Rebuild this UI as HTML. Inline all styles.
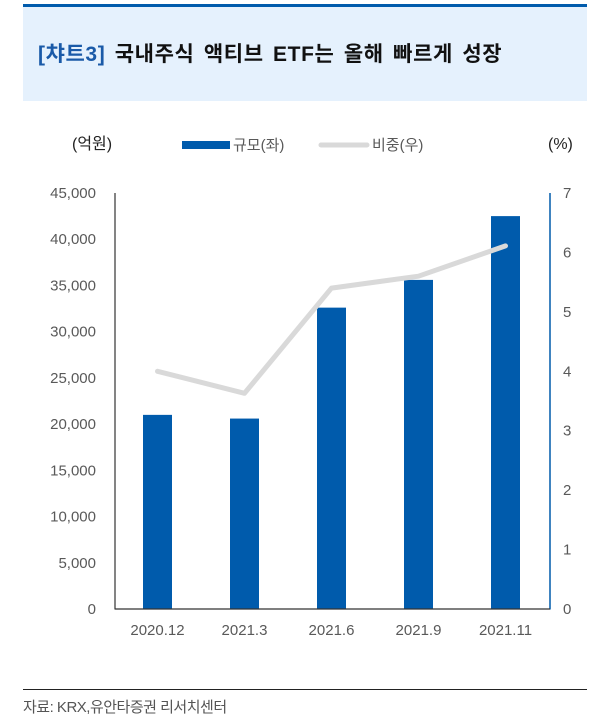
<!DOCTYPE html>
<html><head><meta charset="utf-8"><style>
body{margin:0;width:613px;height:727px;background:#fff;font-family:"Liberation Sans","Noto Sans CJK KR",sans-serif;position:relative;overflow:hidden}
.hdr{position:absolute;left:23px;top:4px;width:564px;height:3px;background:#005bac}
.box{position:absolute;left:23px;top:7px;width:564px;height:94px;background:#e5f1fd}
.title{position:absolute;left:38px;top:38px;font-size:21px;font-weight:bold;color:#111;white-space:nowrap;letter-spacing:0.6px;word-spacing:3px}
.title span{color:#1a5aa8}
.foot{position:absolute;left:23px;top:689px;width:564px;height:1px;background:#222}
.src{position:absolute;left:23px;top:696px;font-size:15px;color:#555;letter-spacing:-0.5px}
</style></head><body>
<div class="hdr"></div>
<div class="box"></div>
<div class="title"><span>[챠트3]</span> 국내주식 액티브 ETF는 올해 빠르게 성장</div>
<svg id="chart" width="613" height="727" style="position:absolute;left:0;top:0"></svg>
<div class="foot"></div>
<div class="src">자료: KRX,유안타증권 리서치센터</div>
<script>
const categories=["2020.12","2021.3","2021.6","2021.9","2021.11"];
const sizeValues=[21000,20600,32600,35600,42500];
const shareValues=[4.0,3.63,5.4,5.6,6.11];
const leftTicks=[0,5000,10000,15000,20000,25000,30000,35000,40000,45000];
const rightTicks=[0,1,2,3,4,5,6,7];
const NS="http://www.w3.org/2000/svg";
const svg=document.getElementById('chart');
const X0=115,X1=550,Y0=609,Y1=193;
const yL=v=>Y0-v/45000*(Y0-Y1);
const yR=v=>Y0-v/7*(Y0-Y1);
const step=(X1-X0)/categories.length;
const xC=i=>X0+step*(i+0.5)-1;
function mk(t,a,txt){const e=document.createElementNS(NS,t);for(const k in a)e.setAttribute(k,a[k]);if(txt!=null)e.textContent=txt;svg.appendChild(e);return e;}
const tf='font-family:"Liberation Sans","Noto Sans CJK KR",sans-serif;font-size:15px;fill:#595959';
leftTicks.forEach(v=>{const e=mk('text',{x:96,y:yL(v)+5,'text-anchor':'end',style:tf},v.toLocaleString('en-US'));

});
rightTicks.forEach(v=>{const e=mk('text',{x:563,y:yR(v)+5,style:tf},String(v));

});
sizeValues.forEach((v,i)=>{const e=mk('rect',{x:xC(i)-14.5,y:yL(v),width:29,height:Y0-yL(v),fill:'#005bac'});

});
const pts=shareValues.map((v,i)=>xC(i)+','+yR(v)).join(' ');
const ln=mk('polyline',{points:pts,fill:'none',stroke:'#d9d9d9','stroke-width':5,'stroke-linecap':'round','stroke-linejoin':'round'});


const la=mk('line',{x1:X0,y1:Y1,x2:X0,y2:Y0+0.5,stroke:'#333','stroke-width':1.2});


const ra=mk('line',{x1:X1,y1:Y1,x2:X1,y2:Y0+0.5,stroke:'#005bac','stroke-width':1.5});


const xa=mk('line',{x1:X0,y1:Y0,x2:X1,y2:Y0,stroke:'#333','stroke-width':1.2});


categories.forEach((c,i)=>{const e=mk('text',{x:xC(i),y:635,'text-anchor':'middle',style:tf},c);

});
const lt=mk('text',{x:72,y:149,style:tf.replace('#595959','#222')+';font-size:16px'},'(억원)');


const rt=mk('text',{x:548,y:149,style:tf.replace('#595959','#222')+';font-size:16px'},'(%)');


const l1=mk('rect',{x:182,y:141,width:48,height:8,fill:'#005bac'});


const l1t=mk('text',{x:233,y:150,style:tf},'규모(좌)');


const l2=mk('line',{x1:321,y1:145,x2:367,y2:145,stroke:'#d9d9d9','stroke-width':5,'stroke-linecap':'round'});


const l2t=mk('text',{x:372,y:150,style:tf},'비중(우)');


</script>
</body></html>
